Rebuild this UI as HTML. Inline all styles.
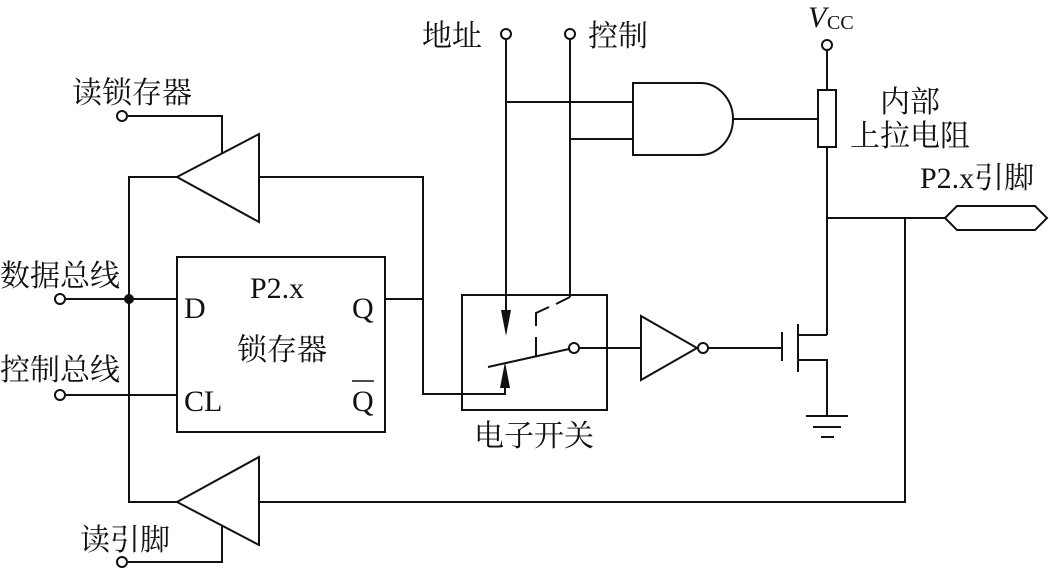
<!DOCTYPE html>
<html><head><meta charset="utf-8"><style>
html,body{margin:0;padding:0;background:#fff;}
svg{display:block}
text{font-family:"Liberation Serif","Noto Serif CJK SC","Noto Sans CJK SC",serif;fill:#111;}
</style></head><body>
<svg width="1050" height="570" viewBox="0 0 1050 570" xmlns="http://www.w3.org/2000/svg">
<g stroke="#111" stroke-width="2" fill="none">
<polyline points="177,177 129,177 129,502 177,502"/>
<line x1="66" y1="299" x2="177" y2="299"/>
<line x1="66" y1="395" x2="177" y2="395"/>
<circle cx="60" cy="299" r="5" fill="#fff"/>
<circle cx="60" cy="395" r="5" fill="#fff"/>
<circle cx="129" cy="299" r="4" fill="#111"/>
<rect x="177" y="257" width="208" height="175"/>
<polygon points="177,177 259,134 259,222"/>
<polyline points="259,177 423,177 423,394 505,394 505,368"/>
<line x1="385" y1="299" x2="423" y2="299"/>
<polyline points="128,116 222,116 222,154"/>
<circle cx="122" cy="116" r="5" fill="#fff"/>
<polygon points="177,502 259,457 259,545"/>
<polyline points="259,502 905,502 905,218"/>
<polyline points="128,562 222,562 222,525"/>
<circle cx="122" cy="562" r="5" fill="#fff"/>
<rect x="462" y="295" width="145" height="115"/>
<line x1="506" y1="40" x2="506" y2="322"/>
<line x1="570" y1="40" x2="570" y2="297"/>
<polyline points="570,297 556,304"/>
<polyline points="549,307 536,313 536,326"/>
<line x1="536" y1="337" x2="536" y2="356"/>
<line x1="488" y1="367" x2="569" y2="349"/>
<circle cx="574" cy="348" r="5" fill="#fff"/>
<line x1="579" y1="348" x2="641" y2="348"/>
<circle cx="506" cy="34" r="5" fill="#fff"/>
<circle cx="570" cy="34" r="5" fill="#fff"/>
<line x1="506" y1="102" x2="633" y2="102"/>
<line x1="570" y1="139" x2="633" y2="139"/>
<path d="M633,83 L700,83 A33,36 0 0 1 700,155 L633,155 Z"/>
<line x1="733" y1="119" x2="818" y2="119"/>
<rect x="818" y="90" width="18" height="57"/>
<line x1="827" y1="50" x2="827" y2="90"/>
<circle cx="827" cy="45" r="5" fill="#fff"/>
<line x1="827" y1="147" x2="827" y2="335"/>
<line x1="827" y1="218" x2="945" y2="218"/>
<polygon points="945,218 957,206 1035,206 1047,218 1035,230 957,230"/>
<polygon points="641,316 641,380 697,348"/>
<circle cx="703" cy="348" r="5" fill="#fff"/>
<line x1="708" y1="348" x2="782" y2="348"/>
<line x1="782" y1="332" x2="782" y2="361"/>
<line x1="798" y1="324" x2="798" y2="372"/>
<polyline points="798,335 827,335"/>
<polyline points="798,360 827,360 827,416"/>
<line x1="806" y1="416" x2="848" y2="416"/>
<line x1="813" y1="427" x2="841" y2="427"/>
<line x1="821" y1="437" x2="834" y2="437"/>
</g>
<polygon points="506,336 501,310 511,310" fill="#111"/>
<polygon points="505,362 500,388 510,388" fill="#111"/>
<g font-size="30">
<text x="72" y="103">读锁存器</text>
<text x="0" y="286">数据总线</text>
<text x="0" y="380">控制总线</text>
<text x="80" y="550">读引脚</text>
<text x="422" y="46">地址</text>
<text x="588" y="46">控制</text>
<text x="474" y="446">电子开关</text>
<text x="880" y="112">内部</text>
<text x="850" y="146">上拉电阻</text>
<text x="920" y="188">P2.x引脚</text>
<text x="250" y="298">P2.x</text>
<text x="237" y="360">锁存器</text>
<text x="184" y="318">D</text>
<text x="184" y="411">CL</text>
<text x="352" y="318">Q</text>
<text x="352" y="411">Q</text>
<text x="808" y="27" font-style="italic">V</text>
<text x="827" y="29" font-size="20">CC</text>
</g>
<line x1="352" y1="381" x2="374" y2="381" stroke="#111" stroke-width="1.5"/>
</svg>
</body></html>
